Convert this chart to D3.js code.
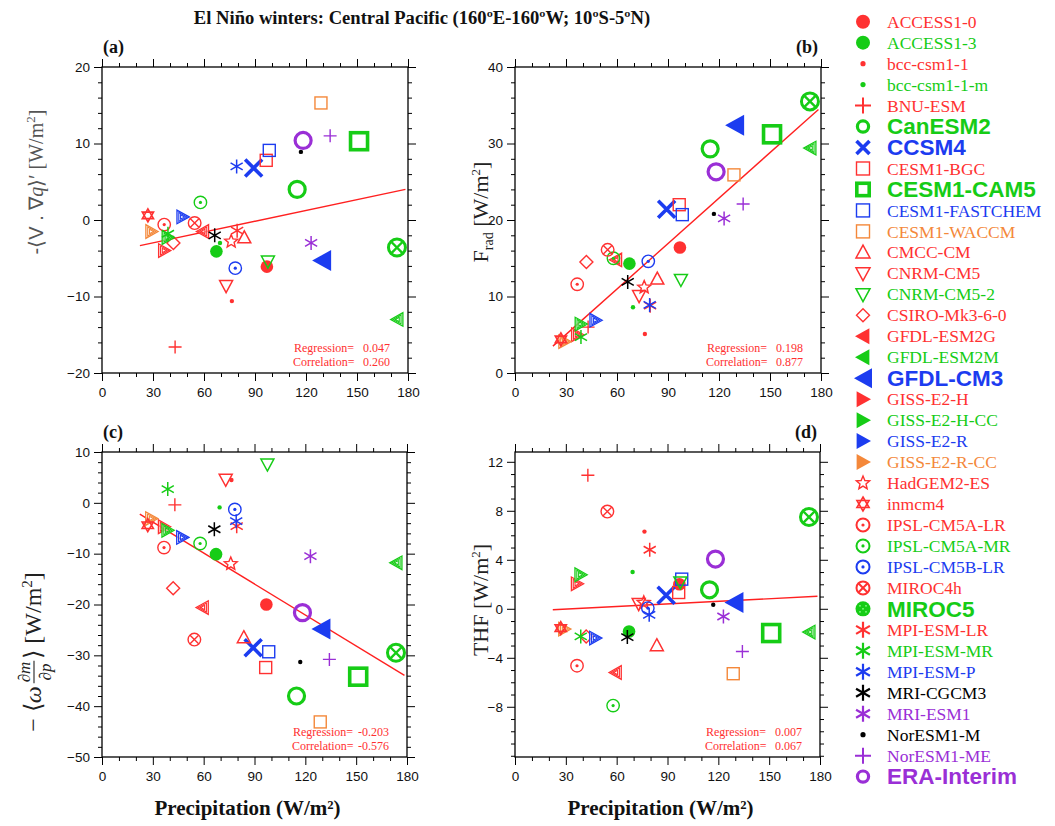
<!DOCTYPE html>
<html><head><meta charset="utf-8">
<script src="https://cdn.jsdelivr.net/npm/d3@7"></script>
<style>body{margin:0;background:#fff}</style>
</head><body><svg id="chart" width="1055" height="826"></svg>
<script>
// ---------------- DATA ----------------
const models = ["ACCESS1-0","ACCESS1-3","bcc-csm1-1","bcc-csm1-1-m","BNU-ESM","CanESM2","CCSM4","CESM1-BGC","CESM1-CAM5","CESM1-FASTCHEM","CESM1-WACCM","CMCC-CM","CNRM-CM5","CNRM-CM5-2","CSIRO-Mk3-6-0","GFDL-ESM2G","GFDL-ESM2M","GFDL-CM3","GISS-E2-H","GISS-E2-H-CC","GISS-E2-R","GISS-E2-R-CC","HadGEM2-ES","inmcm4","IPSL-CM5A-LR","IPSL-CM5A-MR","IPSL-CM5B-LR","MIROC4h","MIROC5","MPI-ESM-LR","MPI-ESM-MR","MPI-ESM-P","MRI-CGCM3","MRI-ESM1","NorESM1-M","NorESM1-ME","ERA-Interim"];
const highlighted = ["CanESM2","CCSM4","CESM1-CAM5","GFDL-CM3","MIROC5","ERA-Interim"];

const precipitation = [97,67.3,76.4,69.4,43,114.8,89.2,96.6,151.2,98.4,128.8,83.7,73,97.6,42,59.5,173.8,129.2,36.5,38.6,47.3,29,76,27,36.6,57.9,78.4,54.5,173.5,79.5,38.8,79.2,66.3,123,117,134.2,118.3];
// (a) -<V.grad q>'
const moistAdv = [-6.1,-4.1,-10.6,-3.0,-16.6,4.0,6.8,7.8,10.3,9.1,15.3,-2.3,-8.6,-5.4,-3.0,-1.5,-13.0,-5.3,-4.0,-2.3,0.4,-1.5,-2.8,0.6,-0.6,2.3,-6.3,-0.4,-3.6,-1.4,-1.8,7.0,-2.0,-3.0,8.9,11.0,10.4];
// (b) F_rad
const radFlux = [16.4,14.3,5.1,8.6,6.0,29.3,21.4,22.0,31.2,20.7,25.9,12.3,10.1,12.2,14.5,14.8,29.4,32.4,5.0,6.4,6.9,4.1,11.2,4.4,11.6,15.0,14.6,16.1,35.5,8.8,4.7,8.9,11.9,20.2,20.8,22.1,26.3];
// (c) -<omega dm/dp>
const omegaTerm = [-20.0,-10.1,4.5,-0.9,-0.4,-38.0,-28.5,-32.4,-34.2,-29.3,-43.1,-26.5,4.6,7.6,-16.8,-20.6,-11.8,-24.8,-4.7,-5.4,-6.8,-3.1,-12.0,-4.4,-8.8,-8.0,-1.3,-26.9,-29.5,-4.6,2.7,-3.6,-5.2,-10.5,-31.3,-30.8,-21.6];
// (d) THF
const thf = [2.0,-1.85,6.3,3.0,10.9,1.55,1.1,1.33,-1.98,2.42,-5.3,-3.0,0.41,2.18,-2.26,-5.2,-1.9,0.51,2.04,2.78,-2.39,-1.66,0.5,-1.58,-4.65,-7.9,0.06,7.94,7.49,4.82,-2.26,-0.49,-2.31,-0.63,0.33,-3.49,4.06];

const regression = ["0.047","0.198","-0.203","0.007"];
const correlation = ["0.260","0.877","-0.576","0.067"];
const fitSlope = [0.047,0.198,-0.203,0.007];
const fitIntercept = [-4.39,-0.9,2.3,-0.23];
const fitRange = [22.3,178.5];

const xTicks = [0,30,60,90,120,150,180];
const yTicksA = [-20,-10,0,10,20];
const yTicksB = [0,10,20,30,40];
const yTicksC = [-50,-40,-30,-20,-10,0,10];
const yTicksD = [-8,-4,0,4,8,12];
const panelLabels = ["(a)","(b)","(c)","(d)"];
const titleText = "El Niño winters: Central Pacific (160ºE-160ºW; 10ºS-5ºN)";
const xTitle = "Precipitation (W/m²)";

// ---------------- STYLES ----------------
const RED="#ff3131", GRN="#16cc16", BLU="#1c3cf0", ORG="#f4883a", PUR="#9a2fd6", BLK="#000";
const markerStyle = [
 {c:RED,m:'disc'},{c:GRN,m:'disc'},{c:RED,m:'dot'},{c:GRN,m:'dot'},{c:RED,m:'plus'},
 {c:GRN,m:'ring',big:1},{c:BLU,m:'x',big:1},{c:RED,m:'square'},{c:GRN,m:'square',big:1},{c:BLU,m:'square'},{c:ORG,m:'square'},
 {c:RED,m:'triUp'},{c:RED,m:'triDown'},{c:GRN,m:'triDown'},{c:RED,m:'diamond'},
 {c:RED,m:'triLeft',hatch:1},{c:GRN,m:'triLeft',hatch:1},{c:BLU,m:'triLeft',big:1},
 {c:RED,m:'triRight',hatch:1},{c:GRN,m:'triRight',hatch:1},{c:BLU,m:'triRight',hatch:1},{c:ORG,m:'triRight',hatch:1},
 {c:RED,m:'star5'},{c:RED,m:'star6'},{c:RED,m:'circleDot'},{c:GRN,m:'circleDot'},{c:BLU,m:'circleDot'},
 {c:RED,m:'circleX'},{c:GRN,m:'circleX',big:1},{c:RED,m:'asterisk'},{c:GRN,m:'asterisk'},{c:BLU,m:'asterisk'},{c:BLK,m:'asterisk'},{c:PUR,m:'asterisk'},
 {c:BLK,m:'dot'},{c:PUR,m:'plus'},{c:PUR,m:'ring',big:1}
];

const svg = d3.select("#chart");
const SERIF = "'Liberation Serif','Times New Roman',serif";
const SANS = "'Liberation Sans',Arial,sans-serif";

function poly(pts){ return "M" + pts.map(p=>p.join(",")).join("L") + "Z"; }
function scalePts(pts,k){ return pts.map(p=>[p[0]*k,p[1]*k]); }

function drawMarker(g, st, legend){
  const c = st.c;
  const line = (d,w)=>g.append("path").attr("d",d).attr("fill","none").attr("stroke",c).attr("stroke-width",w);
  switch(st.m){
    case 'disc': g.append("circle").attr("r",legend?7:6.3).attr("fill",c); break;
    case 'dot': g.append("circle").attr("r",legend?2.6:2.2).attr("fill",c); break;
    case 'plus': { const s=legend?8:6.5; line(`M${-s},0H${s}M0,${-s}V${s}`,legend?2:1.4); break; }
    case 'ring': { const r=legend?5.6:8; g.append("circle").attr("r",r).attr("fill","none").attr("stroke",c).attr("stroke-width",3.2); break; }
    case 'x': { const s=legend?6.5:8.5; line(`M${-s},${-s}L${s},${s}M${-s},${s}L${s},${-s}`,3.6); break; }
    case 'square': { const h = st.big ? (legend?6.2:8.5) : (legend?6.5:6); g.append("rect").attr("x",-h).attr("y",-h).attr("width",2*h).attr("height",2*h).attr("fill","none").attr("stroke",c).attr("stroke-width",st.big?3.6:1.4); break; }
    case 'triUp': { const s=legend?7:6.5; line(poly([[0,-s*1.05],[s,s*0.8],[-s,s*0.8]]),1.5); break; }
    case 'triDown': { const s=legend?7:6.5; line(poly([[0,s*1.05],[s,-s*0.8],[-s,-s*0.8]]),1.5); break; }
    case 'diamond': { const s=6.5; line(poly([[0,-s],[s,0],[0,s],[-s,0]]),1.4); break; }
    case 'triLeft': case 'triRight': {
      const sgn = st.m==='triLeft'?1:-1;
      if(st.big){
        const w=legend?9:9.5, h=legend?10:10.5;
        g.append("path").attr("d",poly([[-w*sgn,0],[w*sgn,-h],[w*sgn,h]])).attr("fill",c);
      } else {
        const s = legend?8:6.8;
        const pts=[[-s*sgn,0],[s*0.8*sgn,-s],[s*0.8*sgn,s]];
        if(legend || !st.hatch){ g.append("path").attr("d",poly(pts)).attr("fill",c); }
        else {
          g.append("path").attr("d",poly(pts)).attr("fill","#fff").attr("fill-opacity",0.6).attr("stroke",c).attr("stroke-width",1.3);
          line(poly(scalePts(pts,0.66)),1.1);
          line(poly(scalePts(pts,0.33)),1.1);
        }
      }
      break; }
    case 'star5': { const R=legend?7:6.8, r=R*0.45; const pts=[]; for(let i=0;i<10;i++){const a=-Math.PI/2+i*Math.PI/5; const rr=i%2?r:R; pts.push([rr*Math.cos(a),rr*Math.sin(a)]);} line(poly(pts),1.4); break; }
    case 'star6': { const R=legend?7:6.5; const t1=[],t2=[]; for(let i=0;i<3;i++){const a=-Math.PI/2+i*2*Math.PI/3; t1.push([R*Math.cos(a),R*Math.sin(a)]); t2.push([-R*Math.cos(a),-R*Math.sin(a)]);} line(poly(t1)+poly(t2),1.6); break; }
    case 'circleDot': { const r=legend?6.5:6.2; g.append("circle").attr("r",r).attr("fill","none").attr("stroke",c).attr("stroke-width",legend?2:1.4); g.append("circle").attr("r",1.6).attr("fill",c); break; }
    case 'circleX': {
      if(st.big){
        const r=legend?7.5:8.5;
        if(legend){ g.append("circle").attr("r",r).attr("fill",c); [[-3,-3],[3,-3],[-3,3],[3,3],[0,0]].forEach(p=>g.append("circle").attr("cx",p[0]).attr("cy",p[1]).attr("r",0.9).attr("fill","#8f8")); }
        else { g.append("circle").attr("r",r).attr("fill","none").attr("stroke",c).attr("stroke-width",3); const s=r*0.62; line(`M${-s},${-s}L${s},${s}M${-s},${s}L${s},${-s}`,2.4); }
      } else {
        const r=legend?6.5:6.3; g.append("circle").attr("r",r).attr("fill","none").attr("stroke",c).attr("stroke-width",legend?2:1.4); const s=r*0.68; line(`M${-s},${-s}L${s},${s}M${-s},${s}L${s},${-s}`,legend?2:1.4);
      }
      break; }
    case 'asterisk': { const s=legend?8:7; const a=Math.cos(Math.PI/6)*s, b=Math.sin(Math.PI/6)*s; line(`M0,${-s}V${s}M${-a},${-b}L${a},${b}M${-a},${b}L${a},${-b}`,legend?2.2:1.5); break; }
  }
}

// ---------------- TITLE ----------------
svg.append("text").attr("x",422).attr("y",24).attr("text-anchor","middle")
  .attr("font-family",SERIF).attr("font-weight","bold").attr("font-size",18.6).attr("fill","#111").text(titleText);

// ---------------- PANELS ----------------
const panels = [
  {x0:102,x1:408,y0:67,y1:373,dom:[-20,20],ticks:yTicksA,minor:2,vals:moistAdv,lab:"left"},
  {x0:515,x1:821,y0:67,y1:373,dom:[0,40],ticks:yTicksB,minor:2,vals:radFlux,lab:"right"},
  {x0:102,x1:407,y0:452,y1:757,dom:[-50,10],ticks:yTicksC,minor:2,vals:omegaTerm,lab:"left"},
  {x0:515,x1:820,y0:452,y1:757,dom:[-12.1,12.8],ticks:yTicksD,minor:1,vals:thf,lab:"right"}
];

panels.forEach((p,pi)=>{
  const x = d3.scaleLinear().domain([0,180]).range([p.x0,p.x1]);
  const y = d3.scaleLinear().domain(p.dom).range([p.y1,p.y0]);
  const g = svg.append("g");
  const xMinor = d3.range(0,181,10).filter(v=>v%30!==0);
  const yMinor = d3.range(Math.ceil(p.dom[0]/p.minor)*p.minor, p.dom[1]+1e-9, p.minor).filter(v=>!p.ticks.includes(v));
  const fixAxis = sel=>{ sel.select(".domain").remove(); sel.selectAll("line").attr("stroke","#000").attr("stroke-width",1);
    sel.selectAll("text").attr("font-family",SANS).attr("font-size",13.5).attr("fill","#111"); };
  g.append("g").attr("transform",`translate(0,${p.y1})`).call(d3.axisBottom(x).tickValues(xTicks).tickSize(8).tickPadding(6).tickFormat(d3.format("d"))).call(fixAxis);
  g.append("g").attr("transform",`translate(0,${p.y1})`).call(d3.axisBottom(x).tickValues(xMinor).tickSize(4).tickFormat("")).call(fixAxis);
  g.append("g").attr("transform",`translate(0,${p.y0})`).call(d3.axisTop(x).tickValues(xTicks).tickSize(8).tickFormat("")).call(fixAxis);
  g.append("g").attr("transform",`translate(0,${p.y0})`).call(d3.axisTop(x).tickValues(xMinor).tickSize(4).tickFormat("")).call(fixAxis);
  g.append("g").attr("transform",`translate(${p.x0},0)`).call(d3.axisLeft(y).tickValues(p.ticks).tickSize(8).tickPadding(4).tickFormat(d3.format("d"))).call(fixAxis);
  g.append("g").attr("transform",`translate(${p.x0},0)`).call(d3.axisLeft(y).tickValues(yMinor).tickSize(4).tickFormat("")).call(fixAxis);
  g.append("g").attr("transform",`translate(${p.x1},0)`).call(d3.axisRight(y).tickValues(p.ticks).tickSize(8).tickFormat("")).call(fixAxis);
  g.append("g").attr("transform",`translate(${p.x1},0)`).call(d3.axisRight(y).tickValues(yMinor).tickSize(4).tickFormat("")).call(fixAxis);
  g.append("rect").attr("x",p.x0).attr("y",p.y0).attr("width",p.x1-p.x0).attr("height",p.y1-p.y0).attr("fill","none").attr("stroke","#000").attr("stroke-width",1.3);

  const line = d3.line().x(d=>x(d)).y(d=>y(fitIntercept[pi]+fitSlope[pi]*d));
  g.append("path").attr("d",line(fitRange)).attr("stroke","#ff2020").attr("stroke-width",1.4).attr("fill","none");

  models.forEach((m,i)=>{
    const mg = g.append("g").attr("transform",`translate(${x(precipitation[i])},${y(p.vals[i])})`);
    drawMarker(mg, markerStyle[i], false);
  });

  const st = g.append("g").attr("font-family",SERIF).attr("font-size",12).attr("fill","#ff3030");
  st.append("text").attr("x",p.x1-114).attr("y",p.y1-21.5).text("Regression=");
  st.append("text").attr("x",p.x1-18).attr("y",p.y1-21.5).attr("text-anchor","end").text(regression[pi]);
  st.append("text").attr("x",p.x1-115).attr("y",p.y1-7).text("Correlation=");
  st.append("text").attr("x",p.x1-18).attr("y",p.y1-7).attr("text-anchor","end").text(correlation[pi]);

  svg.append("text").attr("x",p.lab==="left"?p.x0+1:p.x1-3).attr("y",p.y0-14).attr("text-anchor",p.lab==="left"?"start":"end")
    .attr("font-family",SERIF).attr("font-weight","bold").attr("font-size",18).attr("fill","#111").text(panelLabels[pi]);

  if(pi>=2){
    svg.append("text").attr("x",(p.x0+p.x1)/2-7).attr("y",815).attr("text-anchor","middle")
      .attr("font-family",SERIF).attr("font-weight","bold").attr("font-size",21).attr("fill","#111").text(xTitle);
  }
});

// ---------------- Y AXIS TITLES ----------------
{
  const t = svg.append("text").attr("transform","translate(43,182) rotate(-90)").attr("text-anchor","middle")
    .attr("font-family",SERIF).attr("font-size",20).attr("fill","#555");
  t.append("tspan").attr("font-family",SANS).text("-⟨V . ∇");
  t.append("tspan").attr("font-style","italic").text("q");
  t.append("tspan").attr("font-family",SANS).text("⟩′  ");
  t.append("tspan").text("[W/m");
  t.append("tspan").attr("font-size",13).attr("dy",-8).text("2");
  t.append("tspan").attr("dy",8).text("]");
}
{
  const t = svg.append("text").attr("transform","translate(488,212) rotate(-90)").attr("text-anchor","middle")
    .attr("font-family",SERIF).attr("font-size",22).attr("fill","#222");
  t.append("tspan").text("F");
  t.append("tspan").attr("font-size",14).attr("dy",5).text("rad");
  t.append("tspan").attr("dy",-5).text(" [W/m");
  t.append("tspan").attr("font-size",13).attr("dy",-8).text("2");
  t.append("tspan").attr("dy",8).text("]");
}
{
  const t = svg.append("text").attr("transform","translate(488,600) rotate(-90)").attr("text-anchor","middle")
    .attr("font-family",SERIF).attr("font-size",22).attr("fill","#222");
  t.append("tspan").text("THF [W/m");
  t.append("tspan").attr("font-size",13).attr("dy",-8).text("2");
  t.append("tspan").attr("dy",8).text("]");
}
{
  const g = svg.append("g").attr("transform","translate(41,652) rotate(-90)").attr("font-family",SERIF).attr("fill","#222");
  let xpos = 0;
  const fs = 24;
  const t1 = g.append("text").attr("x",0).attr("y",0).attr("font-size",fs);
  t1.append("tspan").text("−  ⟨");
  t1.append("tspan").attr("font-style","italic").text("ω");
  xpos = t1.node().getComputedTextLength() + 3;
  const num = g.append("text").attr("y",-11).attr("font-size",17).attr("text-anchor","middle");
  num.append("tspan").text("∂");
  num.append("tspan").attr("font-style","italic").text("m");
  const den = g.append("text").attr("y",10).attr("font-size",17).attr("text-anchor","middle");
  den.append("tspan").text("∂");
  den.append("tspan").attr("font-style","italic").text("p");
  const fw = Math.max(num.node().getComputedTextLength(), den.node().getComputedTextLength()) + 2;
  num.attr("x",xpos+fw/2); den.attr("x",xpos+fw/2);
  g.append("line").attr("x1",xpos).attr("x2",xpos+fw).attr("y1",-7).attr("y2",-7).attr("stroke","#222").attr("stroke-width",1.1);
  xpos += fw + 2;
  const t2 = g.append("text").attr("x",xpos).attr("y",0).attr("font-size",fs);
  t2.append("tspan").text("⟩  [W/m");
  t2.append("tspan").attr("font-size",15).attr("dy",-9).text("2");
  t2.append("tspan").attr("dy",9).text("]");
  const total = xpos + t2.node().getComputedTextLength();
  g.selectAll("text,line").attr("transform",`translate(${-total/2},0)`);
}

// ---------------- LEGEND ----------------
const leg = svg.append("g");
models.forEach((m,i)=>{
  const yy = 21.7 + i*20.97;
  const mg = leg.append("g").attr("transform",`translate(863,${yy})`);
  drawMarker(mg, markerStyle[i], true);
  const bold = highlighted.includes(m);
  leg.append("text").attr("x",887).attr("y",yy).attr("dy","0.35em")
    .attr("font-family",bold?SANS:SERIF).attr("font-weight",bold?"bold":"normal")
    .attr("font-size",bold?22.5:17.5).attr("fill",markerStyle[i].c).text(m);
});
</script></body></html>
